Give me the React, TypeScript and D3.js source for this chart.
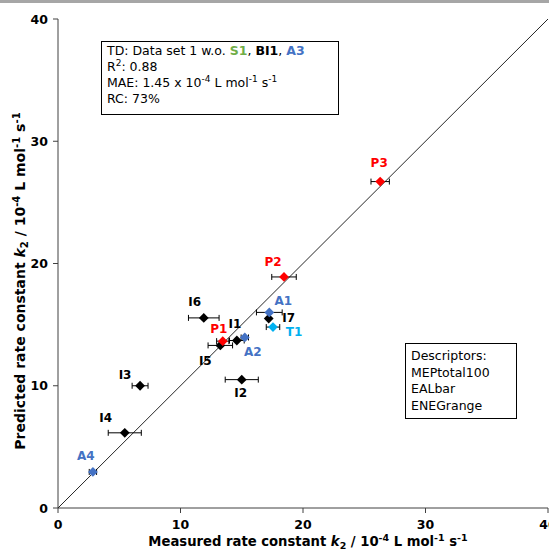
import React from "react";
import * as d3 from "d3";

const compounds = ["I7", "I6", "I1", "I5", "I2", "I3", "I4", "A1", "A2", "A4", "T1", "P3", "P2", "P1"];
const measured = [17.2, 11.9, 14.6, 13.25, 15.0, 6.7, 5.45, 17.25, 15.25, 2.85, 17.55, 26.3, 18.45, 13.45];
const predicted = [15.5, 15.55, 13.7, 13.3, 10.5, 10.0, 6.15, 16.0, 13.95, 2.95, 14.8, 26.7, 18.9, 13.65];
const errors = [0, 1.25, 0.6, 1.0, 1.35, 0.65, 1.35, 1.05, 0.3, 0.3, 0.55, 0.75, 1.0, 0.5];
const groups = ["I", "I", "I", "I", "I", "I", "I", "A", "A", "A", "T", "P", "P", "P"];
const xTicks = [0, 10, 20, 30, 40];
const yTicks = [0, 10, 20, 30, 40];
const descriptors = ["Descriptors:", "MEPtotal100", "EALbar", "ENEGrange"];

const groupColor: Record<string, string> = {
  I: "#000000",
  A: "#4472c4",
  T: "#00b0f0",
  P: "#ff0000",
};

// label offset from marker centre (px)
const labelOffset: Record<string, [number, number]> = {
  P3: [-1, -19],
  P2: [-11, -15],
  A1: [14, -12],
  I7: [20, -1],
  T1: [21, 5],
  I6: [-9, -16],
  P1: [-4, -12],
  I1: [-2, -17],
  A2: [8, 14],
  I5: [-15, 15],
  I2: [-1, 13],
  I3: [-15, -11],
  I4: [-19, -15],
  A4: [-7, -16],
};

const W = 549;
const H = 551;
const font = "DejaVu Sans, Verdana, sans-serif";
const axisColor = "#404040";

// superscript followed by normal text
function sup(t: string, after: string) {
  return (
    <>
      <tspan dy={-5} fontSize="0.72em">{t}</tspan>
      <tspan dy={5}>{after}</tspan>
    </>
  );
}

function unitTitle(label: string) {
  return (
    <>
      {label} <tspan fontStyle="italic">k</tspan>
      <tspan dy={3} fontSize="0.72em">2</tspan>
      <tspan dy={-3}> / 10</tspan>
      {sup("-4", " L mol")}
      {sup("-1", " s")}
      <tspan dy={-5} fontSize="0.72em">-1</tspan>
    </>
  );
}

export default function App() {
  const x = d3.scaleLinear().domain([0, 40]).range([58, 548]);
  const y = d3.scaleLinear().domain([0, 40]).range([508, 19]);
  const diamond = d3.symbol().type(d3.symbolSquare).size(48);

  return (
    <svg
      width={W}
      height={H}
      style={{ position: "absolute", left: 0, top: 0, background: "#fff" }}
      fontFamily={font}
    >
      <rect x={0} y={0} width={W} height={3} fill="#a6a6a6" />

      {/* axes */}
      <line x1={x(0)} x2={x(0)} y1={y(40)} y2={y(0)} stroke={axisColor} />
      <line x1={x(0)} x2={x(40)} y1={y(0)} y2={y(0)} stroke={axisColor} />
      {yTicks.map((t) => (
        <g key={"y" + t}>
          <line x1={x(0) - 5} x2={x(0)} y1={y(t)} y2={y(t)} stroke={axisColor} />
          <text x={x(0) - 10} y={y(t) + 4.5} textAnchor="end" fontSize={12.5} fontWeight="bold">
            {t}
          </text>
        </g>
      ))}
      {xTicks.map((t) => (
        <g key={"x" + t}>
          <line x1={x(t)} x2={x(t)} y1={y(0)} y2={y(0) + 5} stroke={axisColor} />
          <text x={x(t)} y={y(0) + 21} textAnchor="middle" fontSize={12.5} fontWeight="bold">
            {t}
          </text>
        </g>
      ))}

      {/* axis titles */}
      <text x={308} y={546} textAnchor="middle" fontSize={13.2} fontWeight="bold">
        {unitTitle("Measured rate constant")}
      </text>
      <text
        transform={`translate(25,281) rotate(-90)`}
        textAnchor="middle"
        fontSize={14}
        fontWeight="bold"
      >
        {unitTitle("Predicted rate constant")}
      </text>

      {/* identity line */}
      <line x1={x(0)} y1={y(0)} x2={x(40)} y2={y(40)} stroke="#262626" strokeWidth={1} />

      {/* error bars */}
      {compounds.map((c, i) =>
        errors[i] > 0 ? (
          <g key={"e" + c} stroke="#000" strokeWidth={1}>
            <line x1={x(measured[i] - errors[i])} x2={x(measured[i] + errors[i])} y1={y(predicted[i])} y2={y(predicted[i])} />
            <line x1={x(measured[i] - errors[i])} x2={x(measured[i] - errors[i])} y1={y(predicted[i]) - 3} y2={y(predicted[i]) + 3} />
            <line x1={x(measured[i] + errors[i])} x2={x(measured[i] + errors[i])} y1={y(predicted[i]) - 3} y2={y(predicted[i]) + 3} />
          </g>
        ) : null
      )}

      {/* markers */}
      {compounds.map((c, i) => (
        <path
          key={"m" + c}
          d={diamond() as string}
          transform={`translate(${x(measured[i])},${y(predicted[i])}) rotate(45)`}
          fill={groupColor[groups[i]]}
        />
      ))}

      {/* labels */}
      {compounds.map((c, i) => (
        <text
          key={"l" + c}
          x={x(measured[i]) + labelOffset[c][0]}
          y={y(predicted[i]) + labelOffset[c][1] + 4.3}
          textAnchor="middle"
          fontSize={12}
          fontWeight="bold"
          fill={groupColor[groups[i]]}
        >
          {c}
        </text>
      ))}

      {/* info box */}
      <rect x={101.5} y={41.5} width={237} height={73} fill="#fff" stroke="#000" />
      <text x={107} y={55} fontSize={12.5}>
        TD: Data set 1 w.o. <tspan fontWeight="bold" fill="#70ad47">S1</tspan>,{" "}
        <tspan fontWeight="bold">BI1</tspan>, <tspan fontWeight="bold" fill="#4472c4">A3</tspan>
      </text>
      <text x={107} y={71} fontSize={12.5}>
        R{sup("2", ": 0.88")}
      </text>
      <text x={107} y={87} fontSize={12.5}>
        MAE: 1.45 x 10{sup("-4", " L mol")}
        {sup("-1", " s")}
        <tspan dy={-5} fontSize="0.72em">-1</tspan>
      </text>
      <text x={107} y={103} fontSize={12.5}>
        RC: 73%
      </text>

      {/* descriptors box */}
      <rect x={405.5} y={343.5} width={111} height={75} fill="#fff" stroke="#000" />
      {descriptors.map((d, i) => (
        <text key={d} x={411} y={360 + i * 16.5} fontSize={12.5}>
          {d}
        </text>
      ))}
    </svg>
  );
}
